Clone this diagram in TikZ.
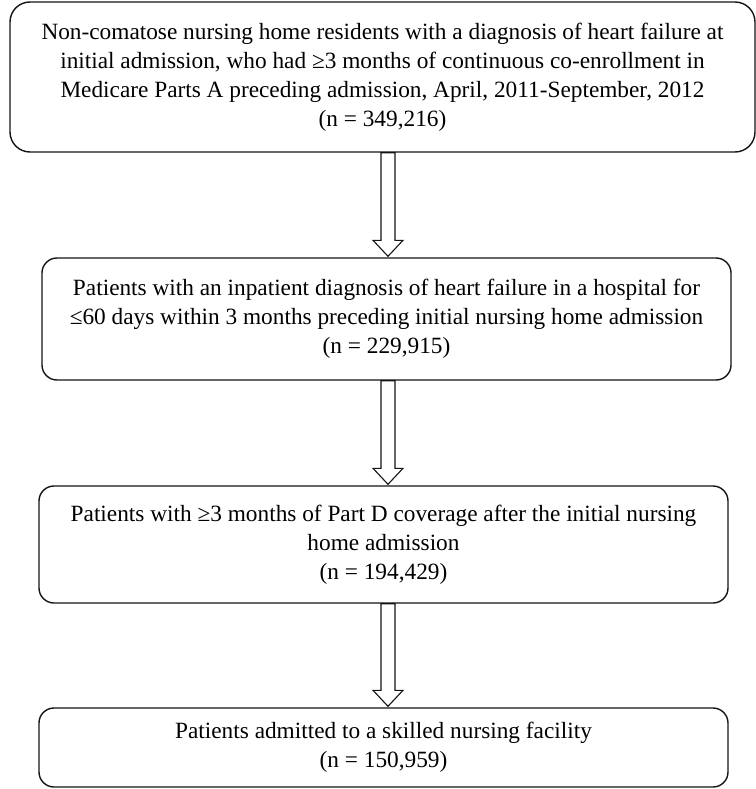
\documentclass[tikz,border=0pt]{standalone}
\usepackage{fontspec}
\setmainfont{Liberation Serif}
\usetikzlibrary{positioning, calc}
\definecolor{mydark}{RGB}{20,20,20}
\tikzset{
  flowbox/.style={rectangle, draw=mydark, fill=white, rounded corners=15pt,
    align=center, line width=1.4pt, inner sep=0pt,
    font=\fontsize{23.3}{29}\selectfont},
  hollow/.style={draw=mydark, fill=white, line width=1.1pt, line join=miter}
}
% Hollow down arrow between two boxes
\newcommand{\downarrowbox}[2]{%
  \draw[hollow] let \p1=(#1.south), \p2=(#2.north) in
    (381pt,\y1) -- (381pt,\y2+17pt) -- (373pt,\y2+17pt) -- (388pt,\y2+1pt)
    -- (403pt,\y2+17pt) -- (395pt,\y2+17pt) -- (395pt,\y1) -- cycle;}

\begin{document}
\begin{tikzpicture}[x=1pt, y=1pt]
  \useasboundingbox (0,0) rectangle (755,-789);

  % Boxes
  \node[flowbox, rounded corners=20pt, minimum width=745pt, minimum height=150pt] (cohort) at (382.5,-77)
    {Non-comatose nursing home residents with a diagnosis of heart failure at\\
     initial admission, who had ≥3 months of continuous co-enrollment in\\
     Medicare Parts A preceding admission, April, 2011-September, 2012\\
     (n = 349,216)};
  \node[flowbox, minimum width=689pt, minimum height=122pt] (inpatient) at (386.5,-319)
    {Patients with an inpatient diagnosis of heart failure in a hospital for\\
     ≤60 days within 3 months preceding initial nursing home admission\\
     (n = 229,915)};
  \node[flowbox, minimum width=689pt, minimum height=117pt] (partd) at (383.5,-544.5)
    {Patients with ≥3 months of Part D coverage after the initial nursing\\
     home admission\\
     (n = 194,429)};
  \node[flowbox, minimum width=689pt, minimum height=79pt] (snf) at (383.5,-747.5)
    {Patients admitted to a skilled nursing facility\\
     (n = 150,959)};

  % Arrows
  \downarrowbox{cohort}{inpatient}
  \downarrowbox{inpatient}{partd}
  \downarrowbox{partd}{snf}
\end{tikzpicture}
\end{document}
